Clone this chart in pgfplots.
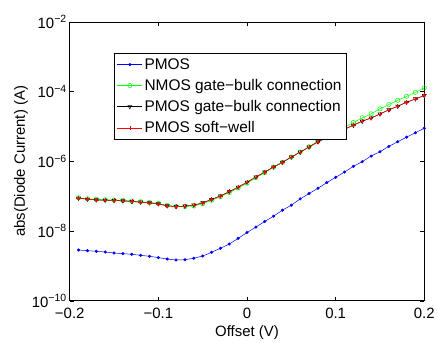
\documentclass[border=0pt]{standalone}
\usepackage{pgfplots}
\pgfplotsset{compat=1.18}
\usepackage{fontspec}
\setmainfont{Liberation Sans}
\definecolor{mgreen}{rgb}{0,1,0}
\newcommand{\tp}[1]{10\raisebox{5.5pt}{\fontsize{10.5}{12}\selectfont #1}}
\begin{document}
\begin{tikzpicture}
\begin{axis}[
  scale only axis, width=356pt, height=280pt,
  at={(0,0)}, anchor=south west,
  xmin=-0.2, xmax=0.2, ymode=log, ymin=1e-10, ymax=1e-2,
  xtick={-0.2,-0.1,0,0.1,0.2},
  xticklabels={−0.2,−0.1,0,0.1,0.2},
  ytick={1e-10,1e-8,1e-6,1e-4,1e-2},
  yticklabels={\tp{−10},\tp{−8},\tp{−6},\tp{−4},\tp{−2}},
  yminorticks=false, xminorticks=false,
  tick align=inside, tick pos=both, major tick length=4pt,
  tick style={black, line width=0.5pt},
  axis line style={line width=0.6pt},
  tick label style={font=\fontsize{15}{17}\selectfont},
  xticklabel style={yshift=-4pt},
  label style={font=\fontsize{15}{17}\selectfont},
  xlabel={Offset (V)}, ylabel={abs(Diode Current) (A)},
  ylabel shift=-3pt,
  legend style={at={(0.1245,0.888)}, anchor=north west, draw=black, line width=0.6pt,
    font=\fontsize{15.5}{17}\selectfont, cells={anchor=west}, inner xsep=3pt, inner ysep=3pt, row sep=4.5pt},
  legend image code/.code={\draw[mark repeat=2,mark phase=2] plot coordinates {(0pt,0pt)(12.5pt,0pt)(25pt,0pt)};},
]
\addplot[blue, line width=0.5pt, mark=*, mark size=1.3pt] coordinates {
(-0.19,2.86e-9)(-0.18,2.74e-9)(-0.17,2.63e-9)(-0.16,2.51e-9)(-0.15,2.35e-9)(-0.14,2.25e-9)(-0.13,2.16e-9)(-0.12,2.02e-9)(-0.11,1.89e-9)(-0.10,1.73e-9)
(-0.09,1.58e-9)(-0.08,1.48e-9)(-0.07,1.51e-9)(-0.06,1.66e-9)(-0.05,1.93e-9)(-0.04,2.46e-9)(-0.03,3.21e-9)(-0.02,4.25e-9)(-0.01,6.18e-9)(0.00,9.06e-9)
(0.01,1.30e-8)(0.02,1.89e-8)(0.03,2.68e-8)(0.04,3.98e-8)(0.05,5.53e-8)(0.06,8.38e-8)(0.07,1.19e-7)(0.08,1.69e-7)(0.09,2.46e-7)(0.10,3.49e-7)
(0.11,4.94e-7)(0.12,7.19e-7)(0.13,9.80e-7)(0.14,1.42e-6)(0.15,1.89e-6)(0.16,2.68e-6)(0.17,3.66e-6)(0.18,4.94e-6)(0.19,6.61e-6)(0.20,8.93e-6)};
\addlegendentry{PMOS}
\addplot[mgreen, line width=0.5pt, mark=o, mark size=2.2pt] coordinates {
(-0.19,9.03e-8)(-0.18,8.45e-8)(-0.17,8.08e-8)(-0.16,7.92e-8)(-0.15,7.76e-8)(-0.14,7.56e-8)(-0.13,7.27e-8)(-0.12,6.94e-8)(-0.11,6.63e-8)(-0.10,6.21e-8)
(-0.09,5.44e-8)(-0.08,5.10e-8)(-0.07,5.10e-8)(-0.06,5.25e-8)(-0.05,6.12e-8)(-0.04,7.65e-8)(-0.03,9.70e-8)(-0.02,1.28e-7)(-0.01,1.72e-7)(0.00,2.38e-7)
(0.01,3.38e-7)(0.02,4.75e-7)(0.03,6.87e-7)(0.04,9.36e-7)(0.05,1.33e-6)(0.06,1.84e-6)(0.07,2.63e-6)(0.08,3.78e-6)(0.09,5.08e-6)(0.10,6.97e-6)
(0.11,9.49e-6)(0.12,1.30e-5)(0.13,1.77e-5)(0.14,2.31e-5)(0.15,3.21e-5)(0.16,4.25e-5)(0.17,5.64e-5)(0.18,7.34e-5)(0.19,9.55e-5)(0.20,1.28e-4)};
\addlegendentry{NMOS gate−bulk connection\hspace{12pt}}
\addplot[black, line width=0.5pt, mark=triangle, mark size=2.3pt, mark options={rotate=180}] coordinates {
(-0.19,8.80e-8)(-0.18,8.22e-8)(-0.17,7.86e-8)(-0.16,7.70e-8)(-0.15,7.55e-8)(-0.14,7.36e-8)(-0.13,7.08e-8)(-0.12,6.76e-8)(-0.11,6.46e-8)(-0.10,6.05e-8)
(-0.09,5.30e-8)(-0.08,5.03e-8)(-0.07,5.20e-8)(-0.06,5.55e-8)(-0.05,6.46e-8)(-0.04,8.07e-8)(-0.03,1.02e-7)(-0.02,1.35e-7)(-0.01,1.82e-7)(0.00,2.52e-7)
(0.01,3.57e-7)(0.02,4.96e-7)(0.03,6.89e-7)(0.04,9.39e-7)(0.05,1.33e-6)(0.06,1.84e-6)(0.07,2.57e-6)(0.08,3.62e-6)(0.09,4.77e-6)(0.10,6.33e-6)
(0.11,8.35e-6)(0.12,1.09e-5)(0.13,1.42e-5)(0.14,1.76e-5)(0.15,2.29e-5)(0.16,3.01e-5)(0.17,3.81e-5)(0.18,4.96e-5)(0.19,6.20e-5)(0.20,7.72e-5)};
\addlegendentry{PMOS gate−bulk connection}
\addplot[red, line width=0.5pt, mark=+, mark size=2.2pt] coordinates {
(-0.19,8.77e-8)(-0.18,8.20e-8)(-0.17,7.84e-8)(-0.16,7.69e-8)(-0.15,7.53e-8)(-0.14,7.34e-8)(-0.13,7.06e-8)(-0.12,6.74e-8)(-0.11,6.44e-8)(-0.10,6.03e-8)
(-0.09,5.28e-8)(-0.08,5.01e-8)(-0.07,5.18e-8)(-0.06,5.53e-8)(-0.05,6.44e-8)(-0.04,8.05e-8)(-0.03,1.02e-7)(-0.02,1.35e-7)(-0.01,1.81e-7)(0.00,2.51e-7)
(0.01,3.56e-7)(0.02,4.94e-7)(0.03,6.87e-7)(0.04,9.36e-7)(0.05,1.33e-6)(0.06,1.83e-6)(0.07,2.56e-6)(0.08,3.61e-6)(0.09,4.75e-6)(0.10,6.31e-6)
(0.11,8.32e-6)(0.12,1.09e-5)(0.13,1.42e-5)(0.14,1.75e-5)(0.15,2.28e-5)(0.16,3.00e-5)(0.17,3.80e-5)(0.18,4.94e-5)(0.19,6.18e-5)(0.20,7.69e-5)};
\addlegendentry{PMOS soft−well}
\end{axis}
\path[use as bounding box] (-70pt,-41pt) rectangle (368pt,302pt);
\end{tikzpicture}
\end{document}
